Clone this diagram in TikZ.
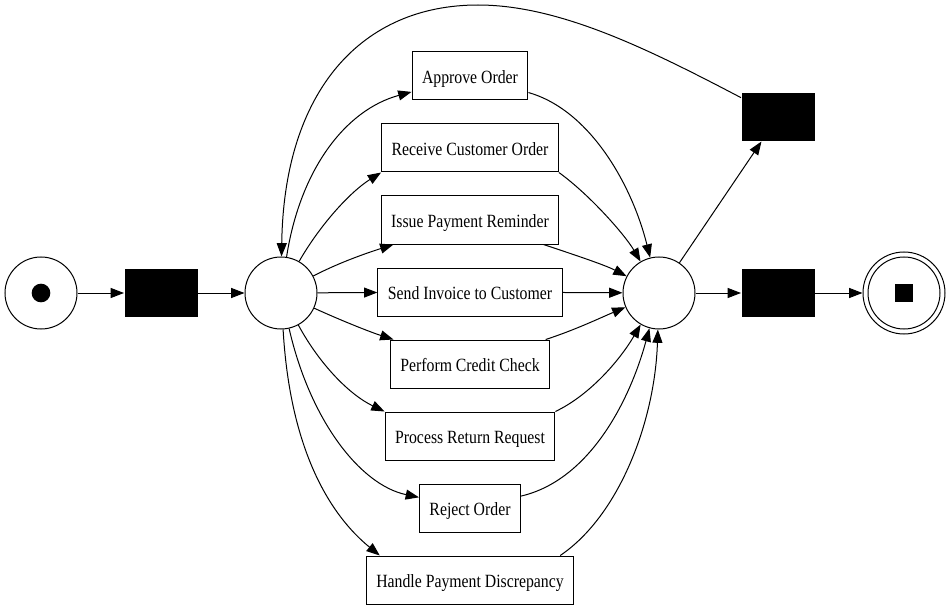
\documentclass[tikz,border=0pt]{standalone}
\usepackage{fontspec}
\setmainfont{Liberation Serif}[FakeStretch=0.845]
\usetikzlibrary{arrows.meta}
\begin{document}
\begin{tikzpicture}[x=0.75pt,y=-0.75pt,line width=0.75pt,
  >={Triangle[length=10pt,width=7.5pt]},
  place/.style={draw,circle,minimum size=54pt,inner sep=0pt},
  transition/.style={fill=black,minimum width=54.75pt,minimum height=36pt,inner sep=0pt},
  tache/.style={draw,minimum height=36pt,inner xsep=7.5pt,text height=13pt,text depth=2pt,
    font=\fontsize{14pt}{16pt}\selectfont}]
  \useasboundingbox (0,0) rectangle (951,610);
  \pgfmathsetmacro{\ymilieu}{293}
  \pgfmathsetmacro{\xtache}{470}
  % places et transitions
  \node[place] (debut) at (41,\ymilieu) {};
  \node[fill,circle,minimum size=14pt,inner sep=0pt] (jeton) at (debut) {};
  \node[transition] (t1) at (161,\ymilieu) {};
  \node[place] (p1) at (281,\ymilieu) {};
  \node[place] (p2) at (659,\ymilieu) {};
  \node[transition] (thaut) at (778,117) {};
  \node[transition] (tdroite) at (778,\ymilieu) {};
  \node[place,minimum size=61.5pt] (fin) at (904,\ymilieu) {};
  \node[place] (fininterne) at (fin) {};
  \node[fill,minimum size=14pt,inner sep=0pt] (carre) at (fin) {};
  % taches
  \foreach \nom/\y/\texte in {ao/76/Approve Order, rco/148/Receive Customer Order,
      ipr/220/Issue Payment Reminder, sic/292/Send Invoice to Customer,
      pcc/364/Perform Credit Check, prr/436/Process Return Request,
      ro/508/Reject Order, hpd/580/Handle Payment Discrepancy}
    \node[tache] (\nom) at (\xtache,\y) {\texte};
  % arcs
  \draw[->] (debut) -- (t1);
  \draw[->] (t1) -- (p1);
  \draw[->] (p1) .. controls (300,170) and (345,110) .. (ao);
  \draw[->] (p1) .. controls (320,225) and (350,192) .. (rco.south west);
  \draw[->] (p1) .. controls (340,262) and (370,252) .. (ipr);
  \draw[->] (p1) -- (sic);
  \draw[->] (p1) .. controls (340,320) and (370,332) .. (pcc);
  \draw[->] (p1) .. controls (320,365) and (350,395) .. (prr.north west);
  \draw[->] (p1) .. controls (310,420) and (360,485) .. (ro);
  \draw[->] (p1) .. controls (290,450) and (330,515) .. ([xshift=10.5pt]hpd.north west);
  \draw[->] (ao) .. controls (590,110) and (632,185) .. (p2);
  \draw[->] (rco.south east) .. controls (590,195) and (625,235) .. (p2);
  \draw[->] (ipr) .. controls (575,255) and (605,265) .. (p2);
  \draw[->] (sic) -- (p2);
  \draw[->] (pcc) .. controls (575,330) and (600,318) .. (p2);
  \draw[->] (prr.north east) .. controls (590,395) and (620,360) .. (p2);
  \draw[->] (ro) .. controls (590,480) and (630,400) .. (p2);
  \draw[->] ([xshift=-10.5pt]hpd.north east) .. controls (620,515) and (655,420) .. (p2);
  \draw[->] (p2) -- (thaut);
  \draw[->] (p2) -- (tdroite);
  \draw[->] (tdroite) -- (fin);
  \draw[->] (thaut) .. controls (650,50) and (560,5) .. (478,5)
    .. controls (362,5) and (284,90) .. (p1);
\end{tikzpicture}
\end{document}
